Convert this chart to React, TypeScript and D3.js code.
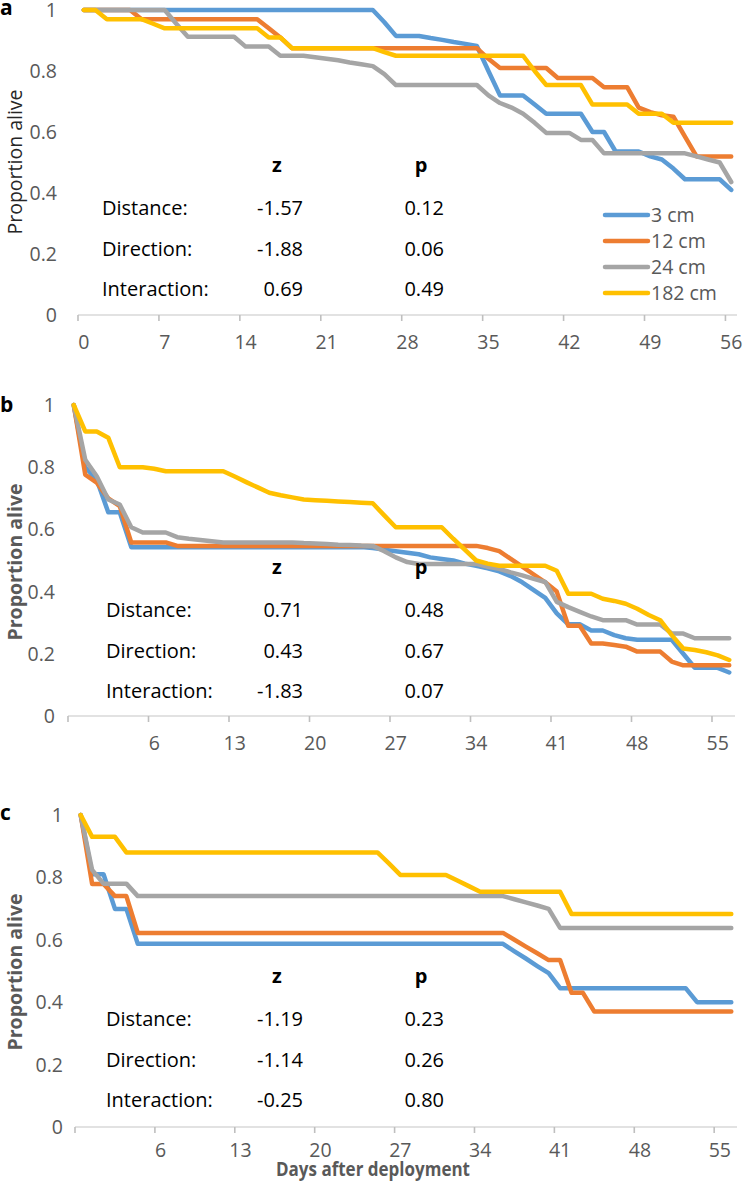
import React from 'react';
import * as d3 from 'd3';

const seriesNames = ['3 cm', '12 cm', '24 cm', '182 cm'];
const seriesColors = ['#5B9BD5', '#ED7D31', '#A5A5A5', '#FFC000'];

const yTicks = [0, 0.2, 0.4, 0.6, 0.8, 1];
const yTickLabels = ['0', '0.2', '0.4', '0.6', '0.8', '1'];

const xLabelsA = ['0', '7', '14', '21', '28', '35', '42', '49', '56'];
const xLabelIdxA = [0, 7, 14, 21, 28, 35, 42, 49, 56];
const xLabelsBC = ['6', '13', '20', '27', '34', '41', '48', '55'];
const xLabelIdxBC = [7, 14, 21, 28, 35, 42, 49, 56];
const tickIdx = [0, 7, 14, 21, 28, 35, 42, 49, 56];

// Panel a (57 daily points)
const aBlue = [1, 1, 1, 1, 1, 1, 1, 1, 1, 1, 1, 1, 1, 1, 1, 1, 1, 1, 1, 1, 1, 1, 1, 1, 1, 1,
  0.96, 0.915, 0.915, 0.915, 0.908, 0.902, 0.895, 0.889, 0.882, 0.80, 0.72, 0.72, 0.72, 0.69, 0.66, 0.66, 0.66, 0.66,
  0.60, 0.60, 0.536, 0.536, 0.536, 0.52, 0.51, 0.48, 0.445, 0.445, 0.445, 0.445, 0.41];
const aOrange = [1, 1, 1, 1, 1, 0.97, 0.97, 0.97, 0.97, 0.97, 0.97, 0.97, 0.97, 0.97, 0.97, 0.97,
  0.94, 0.91, 0.875, 0.875, 0.875, 0.875, 0.875, 0.875, 0.875, 0.875, 0.875, 0.875, 0.875, 0.875, 0.875, 0.875, 0.875, 0.875, 0.875,
  0.84, 0.81, 0.81, 0.81, 0.81, 0.81, 0.777, 0.777, 0.777, 0.777, 0.747, 0.747, 0.747, 0.68, 0.665, 0.655, 0.65, 0.585,
  0.52, 0.52, 0.52, 0.52];
const aGray = [1, 1, 1, 1, 1, 1, 1, 1, 0.955, 0.912, 0.912, 0.912, 0.912, 0.912, 0.88, 0.88, 0.88, 0.85, 0.85, 0.85,
  0.845, 0.84, 0.835, 0.828, 0.822, 0.816, 0.79, 0.754, 0.754, 0.754, 0.754, 0.754, 0.754, 0.754, 0.754,
  0.72, 0.695, 0.68, 0.66, 0.63, 0.597, 0.597, 0.597, 0.574, 0.574, 0.53, 0.53, 0.53, 0.53, 0.53, 0.53, 0.53, 0.53,
  0.52, 0.51, 0.50, 0.436];
const aYellow = [1, 1, 0.97, 0.97, 0.97, 0.97, 0.955, 0.94, 0.94, 0.94, 0.94, 0.94, 0.94, 0.94, 0.94, 0.94,
  0.91, 0.91, 0.875, 0.875, 0.875, 0.875, 0.875, 0.875, 0.875, 0.875, 0.862,
  0.85, 0.85, 0.85, 0.85, 0.85, 0.85, 0.85, 0.85, 0.85, 0.85, 0.85, 0.85, 0.80, 0.754, 0.754, 0.754, 0.754,
  0.69, 0.69, 0.69, 0.69, 0.66, 0.66, 0.66, 0.63, 0.63, 0.63, 0.63, 0.63, 0.63];

// Panel b (58 points)
const bBlue = [1, 0.80, 0.76, 0.655, 0.655, 0.543, 0.543, 0.543, 0.543, 0.543, 0.543, 0.543, 0.543, 0.543, 0.543,
  0.543, 0.543, 0.543, 0.543, 0.543, 0.543, 0.543, 0.543, 0.543, 0.543, 0.543,
  0.54, 0.535, 0.53, 0.525, 0.52, 0.51, 0.505, 0.50, 0.49, 0.483, 0.475, 0.465, 0.45, 0.43, 0.405, 0.38, 0.33,
  0.295, 0.295, 0.275, 0.275, 0.26, 0.25, 0.245, 0.245, 0.245, 0.245, 0.2, 0.155, 0.155, 0.155, 0.14];
const bOrange = [1, 0.776, 0.75, 0.70, 0.675, 0.558, 0.558, 0.558, 0.558,
  0.547, 0.547, 0.547, 0.547, 0.547, 0.547, 0.547, 0.547, 0.547, 0.547, 0.547, 0.547, 0.547, 0.547, 0.547, 0.547,
  0.547, 0.547, 0.547, 0.547, 0.547, 0.547, 0.547, 0.547, 0.547, 0.547, 0.547,
  0.54, 0.53, 0.505, 0.48, 0.455, 0.43, 0.40, 0.29, 0.29, 0.233, 0.233, 0.228, 0.223, 0.207, 0.207, 0.207, 0.175,
  0.163, 0.163, 0.163, 0.163, 0.163];
const bGray = [1, 0.824, 0.771, 0.696, 0.68, 0.607, 0.59, 0.59, 0.59, 0.575, 0.57, 0.566, 0.562,
  0.558, 0.558, 0.558, 0.558, 0.558, 0.558, 0.558, 0.556, 0.555, 0.553, 0.551, 0.55, 0.548, 0.547, 0.53, 0.51, 0.495,
  0.489, 0.489, 0.489, 0.489, 0.489, 0.489, 0.48, 0.473, 0.462, 0.452, 0.441, 0.431, 0.367, 0.35, 0.335, 0.32,
  0.308, 0.308, 0.308, 0.294, 0.294, 0.294, 0.265, 0.265, 0.25, 0.25, 0.25, 0.25];
const bYellow = [1, 0.915, 0.915, 0.895, 0.80, 0.80, 0.80, 0.795, 0.787, 0.787, 0.787, 0.787, 0.787, 0.787,
  0.77, 0.752, 0.735, 0.718, 0.71, 0.703, 0.696, 0.694, 0.692, 0.69, 0.688, 0.686, 0.684, 0.645,
  0.607, 0.607, 0.607, 0.607, 0.607, 0.57, 0.535, 0.50, 0.49, 0.483, 0.483, 0.483, 0.483, 0.483,
  0.467, 0.393, 0.393, 0.393, 0.377, 0.37, 0.361, 0.345, 0.325, 0.308, 0.26, 0.217, 0.212, 0.205, 0.195, 0.18];

// Panel c (58 points)
const cBlue = [1, 0.81, 0.81, 0.699, 0.699, 0.587, 0.587, 0.587, 0.587, 0.587, 0.587, 0.587, 0.587, 0.587, 0.587,
  0.587, 0.587, 0.587, 0.587, 0.587, 0.587, 0.587, 0.587, 0.587, 0.587, 0.587, 0.587, 0.587, 0.587, 0.587, 0.587,
  0.587, 0.587, 0.587, 0.587, 0.587, 0.587, 0.587, 0.563, 0.54, 0.516, 0.493, 0.445,
  0.445, 0.445, 0.445, 0.445, 0.445, 0.445, 0.445, 0.445, 0.445, 0.445, 0.445, 0.40, 0.40, 0.40, 0.40];
const cOrange = [1, 0.779, 0.779, 0.74, 0.74, 0.622, 0.622, 0.622, 0.622, 0.622, 0.622, 0.622, 0.622, 0.622, 0.622,
  0.622, 0.622, 0.622, 0.622, 0.622, 0.622, 0.622, 0.622, 0.622, 0.622, 0.622, 0.622, 0.622, 0.622, 0.622, 0.622,
  0.622, 0.622, 0.622, 0.622, 0.622, 0.622, 0.622, 0.60, 0.578, 0.557, 0.535, 0.535, 0.43, 0.43,
  0.37, 0.37, 0.37, 0.37, 0.37, 0.37, 0.37, 0.37, 0.37, 0.37, 0.37, 0.37, 0.37];
const cGray = [1, 0.824, 0.78, 0.78, 0.78, 0.74, 0.74, 0.74, 0.74, 0.74, 0.74, 0.74, 0.74, 0.74, 0.74,
  0.74, 0.74, 0.74, 0.74, 0.74, 0.74, 0.74, 0.74, 0.74, 0.74, 0.74, 0.74, 0.74, 0.74, 0.74, 0.74,
  0.74, 0.74, 0.74, 0.74, 0.74, 0.74, 0.74, 0.73, 0.72, 0.71, 0.699,
  0.638, 0.638, 0.638, 0.638, 0.638, 0.638, 0.638, 0.638, 0.638, 0.638, 0.638, 0.638, 0.638, 0.638, 0.638, 0.638];
const cYellow = [1, 0.93, 0.93, 0.93, 0.88, 0.88, 0.88, 0.88, 0.88, 0.88, 0.88, 0.88, 0.88, 0.88, 0.88,
  0.88, 0.88, 0.88, 0.88, 0.88, 0.88, 0.88, 0.88, 0.88, 0.88, 0.88, 0.88, 0.845,
  0.808, 0.808, 0.808, 0.808, 0.808, 0.79, 0.772, 0.754, 0.754, 0.754, 0.754, 0.754, 0.754, 0.754, 0.754,
  0.683, 0.683, 0.683, 0.683, 0.683, 0.683, 0.683, 0.683, 0.683, 0.683, 0.683, 0.683, 0.683, 0.683, 0.683];

const statRows = ['Distance:', 'Direction:', 'Interaction:'];
const aZ = ['-1.57', '-1.88', '0.69'];
const aP = ['0.12', '0.06', '0.49'];
const bZ = ['0.71', '0.43', '-1.83'];
const bP = ['0.48', '0.67', '0.07'];
const cZ = ['-1.19', '-1.14', '-0.25'];
const cP = ['0.23', '0.26', '0.80'];

const FONT = "'Open Sans', 'Noto Sans', sans-serif";
const GRAY_TXT = '#595959';

type PanelCfg = {
  letter: string; letterY: number;
  left: number; right: number; n: number; y0: number; y1: number;
  yLabRight: number; series: number[][];
  xLabels: string[]; xLabelIdx: number[]; xLabOff: number;
  titleBold: boolean; titleColor: string; titleY: number;
  statTop: number; z: string[]; p: string[]; labelX: number;
};

const panels: PanelCfg[] = [
  { letter: 'a', letterY: 15, left: 78, right: 737, n: 57, y0: 315, y1: 10, yLabRight: 57,
    series: [aBlue, aOrange, aGray, aYellow], xLabels: xLabelsA, xLabelIdx: xLabelIdxA, xLabOff: 27,
    titleBold: false, titleColor: '#262626', titleY: 162, statTop: 172, z: aZ, p: aP, labelX: 102 },
  { letter: 'b', letterY: 412, left: 68, right: 735, n: 58, y0: 716, y1: 405, yLabRight: 55,
    series: [bBlue, bOrange, bGray, bYellow], xLabels: xLabelsBC, xLabelIdx: xLabelIdxBC, xLabOff: 27,
    titleBold: true, titleColor: GRAY_TXT, titleY: 562, statTop: 574, z: bZ, p: bP, labelX: 106 },
  { letter: 'c', letterY: 820, left: 75, right: 737, n: 58, y0: 1127, y1: 815, yLabRight: 63,
    series: [cBlue, cOrange, cGray, cYellow], xLabels: xLabelsBC, xLabelIdx: xLabelIdxBC, xLabOff: 23,
    titleBold: true, titleColor: GRAY_TXT, titleY: 972, statTop: 983, z: cZ, p: cP, labelX: 106 },
];

function Panel({ cfg }: { cfg: PanelCfg }) {
  const x = d3.scaleBand<number>().domain(d3.range(cfg.n)).range([cfg.left, cfg.right]).padding(0);
  const bw = x.bandwidth();
  const cx = (i: number) => (x(i) as number) + bw / 2;
  const y = d3.scaleLinear().domain([0, 1]).range([cfg.y0, cfg.y1]);
  const line = d3.line<number>().x((_, i) => cx(i)).y((d) => y(d));
  const tickX = (i: number) => (i >= cfg.n ? cfg.right : (x(i) as number));
  return (
    <g>
      <text x={0} y={cfg.letterY} fontFamily={FONT} fontWeight="bold" fontSize={21} fill="#000">{cfg.letter}</text>
      {yTicks.map((t, k) => (
        <text key={k} x={cfg.yLabRight} y={y(t)} dy="0.36em" textAnchor="end" fontFamily={FONT} fontSize={19.5} fill={GRAY_TXT}>
          {yTickLabels[k]}
        </text>
      ))}
      <text transform={`translate(22,${cfg.titleY}) rotate(-90)`} textAnchor="middle" fontFamily={FONT}
        fontSize={19.5} fontWeight={cfg.titleBold ? 'bold' : 'normal'} fill={cfg.titleColor}>Proportion alive</text>
      <line x1={cfg.left} x2={cfg.right} y1={y(0)} y2={y(0)} stroke="#D9D9D9" strokeWidth={1.6} />
      {tickIdx.map((i) => (
        <line key={i} x1={tickX(i)} x2={tickX(i)} y1={y(0)} y2={y(0) + 6} stroke="#BFBFBF" strokeWidth={1.6} />
      ))}
      {cfg.xLabels.map((lab, k) => (
        <text key={k} x={cx(cfg.xLabelIdx[k])} y={y(0) + cfg.xLabOff} dy="0.36em" textAnchor="middle" fontFamily={FONT}
          fontSize={19.5} fill={GRAY_TXT}>{lab}</text>
      ))}
      {cfg.series.map((s, k) => (
        <path key={k} d={line(s) as string} fill="none" stroke={seriesColors[k]} strokeWidth={4.5}
          strokeLinejoin="round" strokeLinecap="round" />
      ))}
      <text x={277} y={cfg.statTop} textAnchor="middle" fontFamily={FONT} fontSize={20} fontWeight="bold" fill="#000">z</text>
      <text x={421} y={cfg.statTop} textAnchor="middle" fontFamily={FONT} fontSize={20} fontWeight="bold" fill="#000">p</text>
      {statRows.map((r, k) => {
        const by = cfg.statTop + 43 + k * 40.5;
        return (
          <g key={k}>
            <text x={cfg.labelX} y={by} fontFamily={FONT} fontSize={20} fill="#000">{r}</text>
            <text x={303} y={by} textAnchor="end" fontFamily={FONT} fontSize={20} fill="#000">{cfg.z[k]}</text>
            <text x={444} y={by} textAnchor="end" fontFamily={FONT} fontSize={20} fill="#000">{cfg.p[k]}</text>
          </g>
        );
      })}
    </g>
  );
}

function Legend() {
  const rows = d3.scaleLinear().domain([0, 3]).range([215, 293]);
  return (
    <g>
      {seriesNames.map((nm, k) => (
        <g key={k}>
          <line x1={605} x2={648} y1={rows(k)} y2={rows(k)} stroke={seriesColors[k]} strokeWidth={4.5} strokeLinecap="round" />
          <text x={651} y={rows(k)} dy="0.36em" fontFamily={FONT} fontSize={19.5} fill={GRAY_TXT}>{nm}</text>
        </g>
      ))}
    </g>
  );
}

export default function App() {
  return (
    <svg width={743} height={1185} style={{ position: 'absolute', left: 0, top: 0, background: '#fff' }}>
      <rect width={743} height={1185} fill="#fff" />
      {panels.map((p, k) => <Panel key={k} cfg={p} />)}
      <Legend />
      <text x={373} y={1176} textAnchor="middle" fontFamily={FONT} fontSize={19.5} fontWeight="bold" fill={GRAY_TXT}
        textLength={194} lengthAdjust="spacingAndGlyphs">
        Days after deployment
      </text>
    </svg>
  );
}
